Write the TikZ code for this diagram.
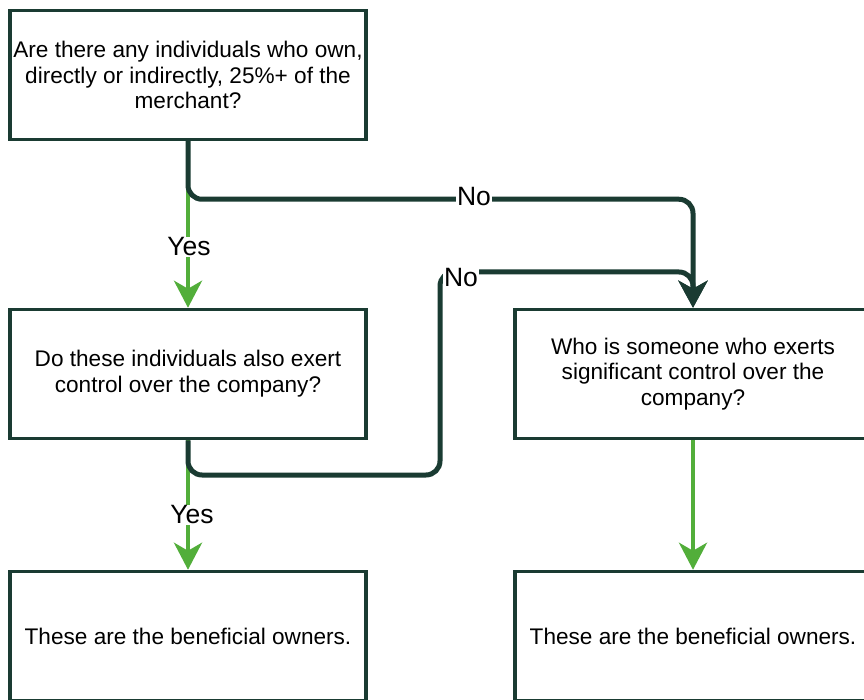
\documentclass[tikz,border=0pt]{standalone}
\usepackage{fontspec}
\setmainfont{Liberation Sans}
\usetikzlibrary{arrows.meta}
\definecolor{darkc}{HTML}{1A3B32}
\definecolor{greenc}{HTML}{52AE3A}
\tikzset{
  box/.style={draw=darkc, line width=3.5pt, fill=white, minimum width=356pt, minimum height=129pt,
    inner sep=0pt, align=center, text=black, font=\fontsize{22.6}{25.8}\selectfont},
  darkline/.style={draw=darkc, line width=5pt, rounded corners=14pt,
    -{Stealth[length=27pt,width=29pt,inset=8pt]}},
  greenline/.style={draw=greenc, line width=4pt,
    -{Stealth[length=27pt,width=28pt,inset=8pt]}},
  lbl/.style={fill=white, inner sep=1pt, text=black, font=\fontsize{26.5}{30}\selectfont}
}
\begin{document}
\begin{tikzpicture}[x=1pt,y=-1pt]
\path[use as bounding box, clip] (0,0) rectangle (864,700);
\fill[white] (0,0) rectangle (864,700);
\node[box] (b1) at (188,75) {Are there any individuals who own,\\directly or indirectly, 25\%+ of the\\merchant?};
\node[box] (b2) at (188,374) {Do these individuals also exert\\control over the company?};
\node[box] (b3) at (693,374) {Who is someone who exerts\\significant control over the\\company?};
\node[box] (b4) at (188,636) {These are the beneficial owners.};
\node[box] (b5) at (693,636) {These are the beneficial owners.};
% green yes arrows
\draw[greenline] (b1.south) -- (b2.north);
\draw[greenline] (b2.south) -- (b4.north);
\draw[greenline] (b3.south) -- (b5.north);
\node[lbl] (y1) at (189,247) {Yes};
\node[lbl] (y2) at (192,515) {Yes};
% dark no arrows
\coordinate (c1) at (188,475);
\coordinate (c2) at (440,475);
\coordinate (c3) at (440,272);
\draw[darkline] (b1.south) -- ++(0,58) -| (b3.north);
\draw[darkline] (b2.south) -- (c1) -- (c2) -- (c3) -| (b3.north);
\node[lbl] (n1) at (474,197) {No};
\node[lbl] (n2) at (461,278) {No};
\end{tikzpicture}
\end{document}
